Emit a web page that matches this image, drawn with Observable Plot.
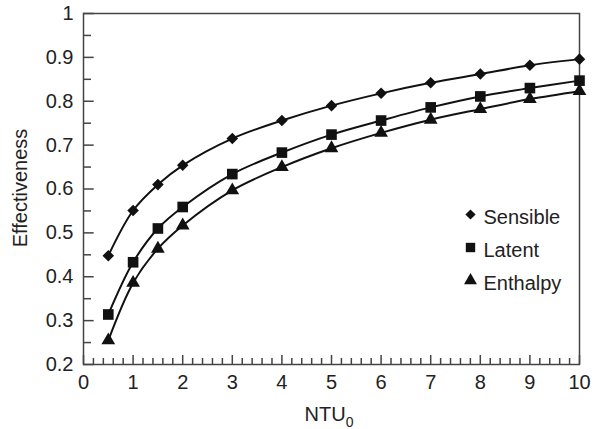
<!DOCTYPE html>
<html><head><meta charset="utf-8">
<script src="https://cdn.jsdelivr.net/npm/d3@7"></script>
<script src="https://cdn.jsdelivr.net/npm/@observablehq/plot@0.6"></script>
<style>body{margin:0;background:#fff}</style>
</head><body><div id="chart"></div>
<script>
// Data
const ntu = [0.5, 1, 1.5, 2, 3, 4, 5, 6, 7, 8, 9, 10];
const sensible = [0.448, 0.551, 0.610, 0.654, 0.715, 0.756, 0.790, 0.818, 0.842, 0.862, 0.882, 0.896];
const latent   = [0.314, 0.433, 0.510, 0.559, 0.634, 0.683, 0.724, 0.756, 0.786, 0.811, 0.830, 0.847];
const enthalpy = [0.255, 0.386, 0.464, 0.517, 0.597, 0.650, 0.693, 0.728, 0.758, 0.782, 0.805, 0.823];
const seriesNames = ["Sensible", "Latent", "Enthalpy"];
const seriesSymbols = ["diamond2", "square", "triangle"];
const xTicks = [0, 1, 2, 3, 4, 5, 6, 7, 8, 9, 10];
const xTickLabels = ["0", "1", "2", "3", "4", "5", "6", "7", "8", "9", "10"];
const yTicks = [0.2, 0.3, 0.4, 0.5, 0.6, 0.7, 0.8, 0.9, 1];
const yTickLabels = ["0.2", "0.3", "0.4", "0.5", "0.6", "0.7", "0.8", "0.9", "1"];
const xMinorTicks = d3.range(0, 10.001, 0.2).map(v => +v.toFixed(1)).filter(v => !xTicks.includes(v));
const yMinorTicks = [0.25, 0.35, 0.45, 0.55, 0.65, 0.75, 0.85, 0.95];

const seriesValues = [sensible, latent, enthalpy];
const rows = seriesNames.flatMap((s, k) => ntu.map((x, i) => ({series: s, ntu: x, eff: seriesValues[k][i]})));

const ink = "#111";
const fs = 20;
const pointR = {diamond2: 5.2, square: 6.0, triangle: 5.1};
const legendR = {diamond2: 4.6, square: 5.3, triangle: 4.8};

const marks = [
  Plot.frame({stroke: "#444", strokeWidth: 1.5}),
  Plot.axisY({ticks: yMinorTicks, tickSize: -8, tickFormat: () => "", stroke: "#444", strokeWidth: 1.5}),
  Plot.axisY({ticks: yTicks, tickSize: -10.7, tickFormat: () => "", stroke: "#444", strokeWidth: 1.5}),
  Plot.axisY({ticks: yTicks, tickSize: 0, tickPadding: 10, tickFormat: (d) => yTickLabels[yTicks.indexOf(d)], fill: "#222", fontSize: fs}),
  Plot.axisX({ticks: xMinorTicks, tickSize: -6, tickFormat: () => "", stroke: "#444", strokeWidth: 1.5}),
  Plot.axisX({ticks: xTicks, tickSize: -9, tickFormat: () => "", stroke: "#444", strokeWidth: 1.5}),
  Plot.axisX({ticks: xTicks, tickSize: 0, tickPadding: 10, tickFormat: (d) => xTickLabels[xTicks.indexOf(d)], fill: "#222", fontSize: fs}),
  Plot.line(rows, {x: "ntu", y: "eff", z: "series", curve: "catmull-rom", stroke: ink, strokeWidth: 2})
];
seriesNames.forEach((s, k) => {
  const sym = seriesSymbols[k];
  marks.push(Plot.dot(rows.filter(d => d.series === s), {x: "ntu", y: "eff", symbol: () => sym, r: pointR[sym], fill: ink, stroke: "none"}));
  // legend
  marks.push(Plot.dot([s], {frameAnchor: "top-left", dx: 387, dy: 201 + 33 * k, symbol: () => sym, r: legendR[sym], fill: ink, stroke: "none"}));
  marks.push(Plot.text([s], {frameAnchor: "top-left", dx: 400, dy: 196 + 33 * k, text: d => d, textAnchor: "start", fill: "#222", fontSize: fs}));
});

const plot = Plot.plot({
  width: 595, height: 429,
  marginLeft: 83, marginRight: 16, marginTop: 13, marginBottom: 65,
  style: {fontFamily: "'Liberation Sans', Arial, sans-serif", fontSize: fs + "px", background: "#fff", color: "#222"},
  x: {domain: [0, 10], label: null},
  y: {domain: [0.2, 1], label: null},
  symbol: {type: "identity"},
  marks
});

const svg = d3.select(plot);
svg.append("text")
  .attr("transform", "translate(26.5,188) rotate(-90)")
  .attr("text-anchor", "middle")
  .attr("fill", "#222")
  .attr("font-size", fs)
  .text("Effectiveness");
const xl = svg.append("text")
  .attr("x", 329).attr("y", 421)
  .attr("text-anchor", "middle")
  .attr("fill", "#222")
  .attr("font-size", fs);
xl.append("tspan").text("NTU");
xl.append("tspan").attr("font-size", 14).attr("dy", 6).text("0");

document.getElementById("chart").appendChild(plot);
</script>
</body></html>
